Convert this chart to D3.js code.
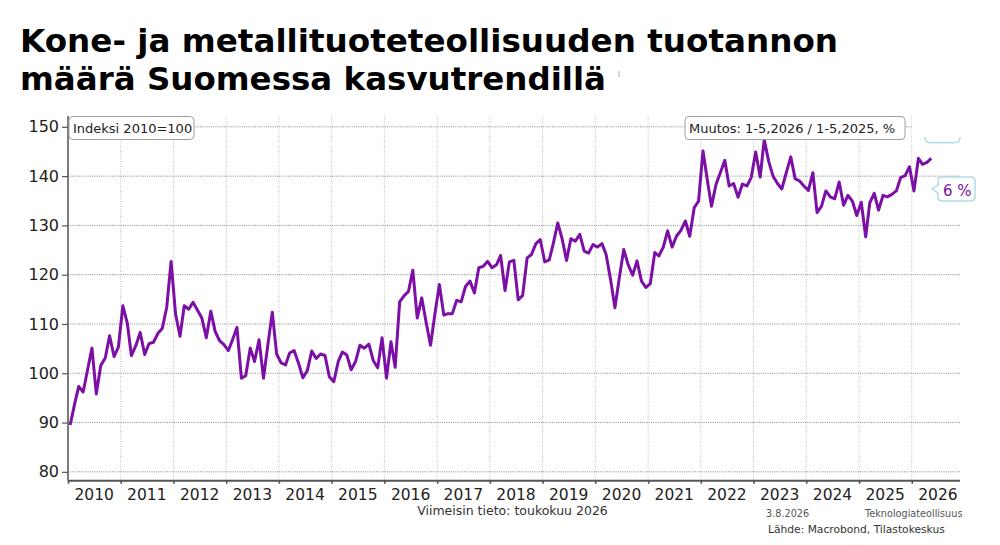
<!DOCTYPE html>
<html><head><meta charset="utf-8">
<script src="https://cdn.jsdelivr.net/npm/d3@7/dist/d3.min.js"></script>
<style>
body{margin:0;background:#fff}
svg{display:block;font-family:"DejaVu Sans",Verdana,sans-serif}
</style>
</head><body>
<svg id="chart" width="1000" height="545"></svg>
<script>
// ---- data ----
const titleLines = ["Kone- ja metallituoteteollisuuden tuotannon", "määrä Suomessa kasvutrendillä"];
const startYear = 2010;
// monthly index values, 2010=100, Jan 2010 .. May 2026
const values = [
  89.5, 93.8, 97.3, 96.2, 100.6, 105.1, 95.8, 101.6, 103.1, 107.6, 103.4, 105.3,   // 2010
  113.7, 110.1, 103.6, 105.6, 108.3, 103.8, 106.0, 106.3, 108.1, 109.1, 113.4, 122.7, // 2011
  112.0, 107.5, 113.7, 113.0, 114.4, 112.8, 111.2, 107.2, 112.6, 108.5, 106.6, 105.8, // 2012
  104.6, 107.0, 109.3, 99.0, 99.5, 105.1, 102.4, 106.8, 99.0, 105.7, 112.4, 103.9,    // 2013
  102.1, 101.7, 104.1, 104.6, 102.1, 99.1, 100.5, 104.5, 103.0, 103.9, 103.6, 99.3,   // 2014
  98.3, 102.4, 104.3, 103.7, 100.7, 102.4, 105.7, 105.1, 105.9, 102.6, 101.1, 107.2,  // 2015
  99.0, 106.4, 101.2, 114.5, 115.7, 116.6, 120.9, 111.2, 115.3, 110.4, 105.7, 112.0,  // 2016
  118.0, 111.8, 112.1, 112.1, 114.8, 114.5, 117.6, 118.7, 116.3, 121.4, 121.7, 122.7, // 2017
  121.4, 122.0, 123.9, 116.8, 122.6, 122.9, 114.9, 115.8, 123.4, 124.1, 126.3, 127.1, // 2018
  122.6, 123.0, 126.3, 130.5, 127.3, 122.9, 127.3, 126.8, 128.2, 124.8, 124.4, 126.1, // 2019
  125.6, 126.3, 124.1, 119.0, 113.3, 119.5, 125.1, 122.0, 119.9, 122.8, 118.7, 117.4, // 2020
  118.2, 124.5, 123.8, 125.6, 128.9, 125.6, 127.8, 129.0, 130.9, 127.8, 133.6, 134.9, // 2021
  145.1, 139.0, 133.9, 138.3, 140.7, 143.2, 138.0, 138.5, 135.7, 138.4, 138.0, 139.7, // 2022
  144.9, 139.8, 147.4, 143.0, 140.0, 138.5, 137.4, 140.7, 143.9, 139.5, 139.0, 138.0, // 2023
  137.1, 140.7, 132.6, 133.9, 137.0, 135.8, 135.4, 138.8, 134.1, 136.1, 134.9, 132.0, // 2024
  134.7, 127.7, 134.6, 136.5, 133.1, 136.1, 135.8, 136.3, 137.0, 139.7, 140.1, 141.9, // 2025
  137.0, 143.6, 142.4, 142.8, 143.6                                                    // 2026
];
const yTicks = [80, 90, 100, 110, 120, 130, 140, 150];
const yearLabels = [2010,2011,2012,2013,2014,2015,2016,2017,2018,2019,2020,2021,2022,2023,2024,2025,2026];
const indexLabel = "Indeksi 2010=100";
const changeLabel = "Muutos: 1-5,2026 / 1-5,2025, %";
const changeValue = "6 %";
const footerCenter = "Viimeisin tieto: toukokuu 2026";
const footerDate = "3.8.2026";
const footerOrg = "Teknologiateollisuus";
const footerSource = "Lähde: Macrobond, Tilastokeskus";

// ---- layout ----
const svg = d3.select("#chart");
const pL = 68, pR = 960, pT = 116, pB = 480.7;
const purple = "#7b0fa6";

const x = d3.scaleTime()
  .domain([new Date(2010, 0, 1), new Date(2026, 11, 1)])
  .range([pL, pR]);
const y = d3.scaleLinear().domain([78.2, 152.2]).range([pB, pT]);

svg.append("rect").attr("width", 1000).attr("height", 545).attr("fill", "#fff");

// title
svg.append("g").selectAll("text").data(titleLines).join("text")
  .attr("x", 20).attr("y", (d, i) => 52 + i * 38)
  .attr("font-size", 32.5).attr("font-weight", "bold").attr("fill", "#000")
  .attr("textLength", (d, i) => i === 0 ? 818 : 586)
  .attr("lengthAdjust", "spacingAndGlyphs")
  .text(d => d);
svg.append("line").attr("x1", 619).attr("x2", 619).attr("y1", 71).attr("y2", 77)
  .attr("stroke", "#aaa").attr("stroke-width", 1);

// vertical grid at year starts
const yearStarts = yearLabels.slice(1).map(yr => new Date(yr, 0, 1));
svg.append("g").selectAll("line").data(yearStarts).join("line")
  .attr("x1", d => x(d)).attr("x2", d => x(d))
  .attr("y1", pT).attr("y2", pB)
  .attr("stroke", "#bdbdbd").attr("stroke-width", 1).attr("stroke-dasharray", "1,1.5");

// horizontal grid
svg.append("g").selectAll("line").data(yTicks).join("line")
  .attr("x1", pL).attr("x2", pR)
  .attr("y1", d => y(d)).attr("y2", d => y(d))
  .attr("stroke", "#8a8a8a").attr("stroke-width", 1).attr("stroke-dasharray", "1,1.2");

// line
const pts = values.map((v, i) => ({ date: new Date(startYear, i, 16), v }));
svg.append("path").datum(pts)
  .attr("fill", "none").attr("stroke", purple).attr("stroke-width", 3)
  .attr("stroke-linejoin", "round").attr("stroke-linecap", "butt")
  .attr("d", d3.line().x(d => x(d.date)).y(d => y(d.v)));

// y axis
const yAxis = svg.append("g").attr("transform", `translate(${pL},0)`)
  .call(d3.axisLeft(y).tickValues(yTicks).tickSize(6).tickPadding(3).tickFormat(d3.format("d")));
yAxis.select(".domain").remove();
yAxis.selectAll(".tick line").attr("stroke", "#555").attr("stroke-width", 1.2);
yAxis.selectAll(".tick text").attr("font-size", 16).attr("fill", "#222")
  .attr("font-family", '"DejaVu Sans",Verdana,sans-serif');
svg.append("line").attr("x1", pL).attr("x2", pL).attr("y1", pT).attr("y2", pB)
  .attr("stroke", "#5a5a5a").attr("stroke-width", 1.6);

// x axis
const xAxis = svg.append("g").attr("transform", `translate(0,${pB})`)
  .call(d3.axisBottom(x).tickValues(yearLabels.map(yr => new Date(yr, 0, 1))).tickSize(3).tickFormat(""));
xAxis.select(".domain").remove();
xAxis.selectAll(".tick line").attr("stroke", "#444").attr("stroke-width", 1.5);
svg.append("line").attr("x1", pL).attr("x2", pR).attr("y1", pB).attr("y2", pB)
  .attr("stroke", "#555").attr("stroke-width", 2);
svg.append("g").selectAll("text").data(yearLabels).join("text")
  .attr("x", d => x(new Date(d, 6, 1))).attr("y", 499.5)
  .attr("text-anchor", "middle").attr("font-size", 15.5).attr("fill", "#222")
  .text(d => d);

// label boxes
function labelBox(x0, y0, w, h, txt, fs) {
  svg.append("rect").attr("x", x0).attr("y", y0).attr("width", w).attr("height", h)
    .attr("rx", 4).attr("fill", "#fff").attr("stroke", "#a0a0a0").attr("stroke-width", 1);
  svg.append("text").attr("x", x0 + 4).attr("y", y0 + h - 6.5)
    .attr("font-size", fs).attr("fill", "#222").text(txt);
}
labelBox(69, 116.5, 125, 23, indexLabel, 13);
labelBox(685, 116.5, 220, 23, changeLabel, 13);

// cut-off light-blue box at the top right
svg.append("rect").attr("x", 912).attr("y", 110).attr("width", 50).attr("height", 32.5).attr("fill", "#fff");
svg.append("path")
  .attr("d", "M925,137 Q925,142.7 930,142.7 L955,142.7 Q960,142.7 960,137")
  .attr("fill", "none").attr("stroke", "#b3dde6").attr("stroke-width", 1.5);

// callout "6 %"
svg.append("path")
  .attr("d", "M942,177 L971,177 Q975,177 975,181 L975,197 Q975,201 971,201 L942,201 Q938,201 938,197 L938,193 L932,189 L938,185 L938,181 Q938,177 942,177 Z")
  .attr("fill", "#fff").attr("stroke", "#b3dde6").attr("stroke-width", 1.5);
svg.append("text").attr("x", 943).attr("y", 195.5).attr("font-size", 15)
  .attr("fill", purple).text(changeValue);

// footer
svg.append("text").attr("x", 512.5).attr("y", 515).attr("text-anchor", "middle")
  .attr("font-size", 12.5).attr("fill", "#333").text(footerCenter);
svg.append("text").attr("x", 766).attr("y", 517).attr("font-size", 9.7)
  .attr("fill", "#555").text(footerDate);
svg.append("text").attr("x", 865).attr("y", 517).attr("font-size", 9.7)
  .attr("fill", "#555").text(footerOrg);
svg.append("text").attr("x", 768).attr("y", 533).attr("font-size", 10.7)
  .attr("fill", "#333").text(footerSource);
</script>
</body></html>
